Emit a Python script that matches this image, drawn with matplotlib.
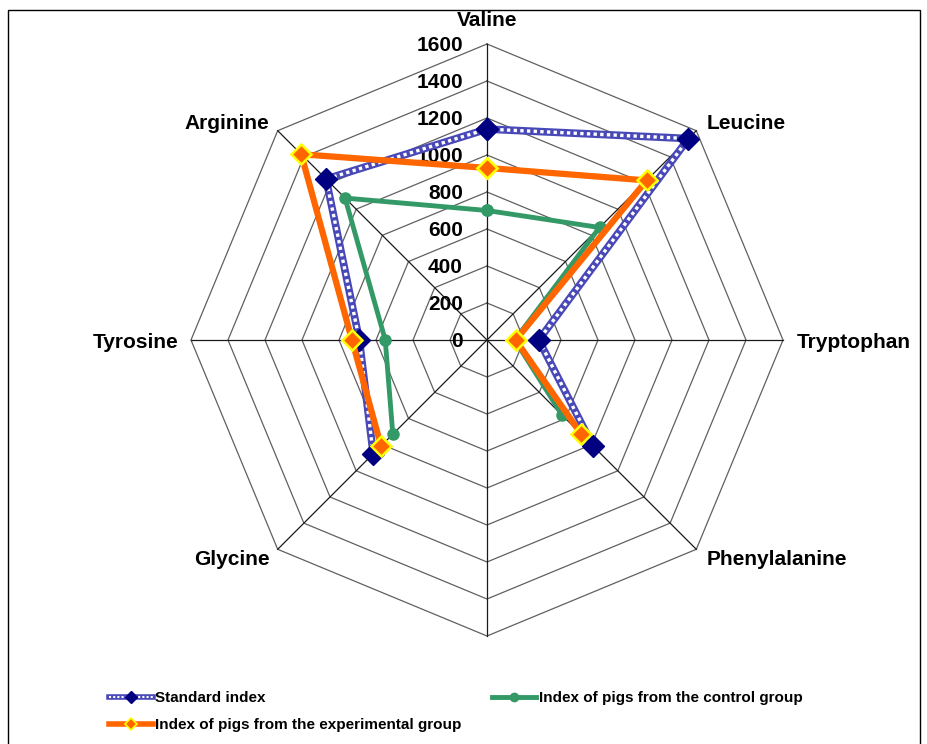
import numpy as np
import matplotlib
matplotlib.use("Agg")
import matplotlib.pyplot as plt
from matplotlib.patches import Rectangle
from matplotlib.lines import Line2D
from matplotlib.legend_handler import HandlerTuple

plt.rcParams['font.family'] = ['Liberation Sans', 'DejaVu Sans']

amino_acids = ["Valine", "Leucine", "Tryptophan", "Phenylalanine",
               "Glycine", "Tyrosine", "Arginine"]
standard = [1140, 1540, 280, 810, 870, 690, 1230]
control = [700, 860, 150, 575, 720, 550, 1085]
experimental = [930, 1220, 155, 720, 810, 730, 1420]
ticks = [0, 200, 400, 600, 800, 1000, 1200, 1400, 1600]

n_spokes = 8
# spokes clockwise from top; the bottom spoke (index 4) is an empty category
spoke_ang = np.pi / 2 - np.arange(n_spokes) * 2 * np.pi / n_spokes
used = [0, 1, 2, 3, 5, 6, 7]


def closed(vals):
    v = np.full(n_spokes, np.nan)
    v[used] = vals
    v = np.append(v, v[0])
    a = np.append(spoke_ang, spoke_ang[0])
    return v * np.cos(a), v * np.sin(a)


fig = plt.figure(figsize=(9.28, 7.44), dpi=100)
ax = fig.add_axes([0, 0, 1, 1])
s = 0.185  # px per unit
ax.set_xlim(-487 / s, (928 - 487) / s)
ax.set_ylim(-(744 - 340) / s, 340 / s)
ax.axis("off")

# polygon grid
ring_ang = np.append(spoke_ang, spoke_ang[0])
for t in ticks[1:]:
    ax.plot(t * np.cos(ring_ang), t * np.sin(ring_ang), color="#606060", lw=0.9, zorder=1)
for a in spoke_ang:
    ax.plot([0, 1600 * np.cos(a)], [0, 1600 * np.sin(a)], color="#1a1a1a", lw=0.9, zorder=1)

for t in ticks:
    ax.text(-130, t - 10, str(t), ha="right", va="center", fontsize=15, fontweight="bold", zorder=2)

# category labels
lab_pos = [(0, 1725), (1185, 1168), (1675, -16), (1185, -1186),
           (-1175, -1186), (-1665, -16), (-1175, 1168)]
lab_ha = ["center", "left", "left", "left", "right", "right", "right"]
for name, (lx, ly), ha in zip(amino_acids, lab_pos, lab_ha):
    ax.text(lx, ly, name, ha=ha, va="center", fontsize=15, fontweight="bold", zorder=2)

# standard index: hatched blue line
sx, sy = closed(standard)
ax.plot(sx, sy, color="#4848b8", lw=5.5, zorder=3, solid_capstyle="butt")
ax.plot(sx, sy, color="white", lw=2.4, ls=(0, (1, 1)), zorder=3)
ax.plot(sx, sy, ls="none", marker="D", ms=11, color="#000080", zorder=4)

cx, cy = closed(control)
ax.plot(cx, cy, color="#339966", lw=3.5, marker="o", ms=8, zorder=5)

ex, ey = closed(experimental)
ax.plot(ex, ey, color="#ff6600", lw=4.5, marker="D", ms=10,
        mfc="#ff6600", mec="#ffff00", mew=1.8, zorder=6)

# legend proxies with small markers
l_std = (Line2D([], [], color="#4848b8", lw=4),
         Line2D([], [], color="white", lw=1.5, ls=(0, (1, 1))),
         Line2D([], [], ls="none", marker="D", ms=6, color="#000080"))
l_exp = Line2D([], [], color="#ff6600", lw=4, marker="D", ms=6,
               mfc="#ff6600", mec="#ffff00", mew=1.2)
l_ctl = Line2D([], [], color="#339966", lw=3.5, marker="o", ms=6)

fig.legend([l_std, l_exp, l_ctl],
           ["Standard index", "Index of pigs from the experimental group",
            "Index of pigs from the control group"],
           handler_map={tuple: HandlerTuple(ndivide=1, pad=0)},
           ncol=2, loc="upper left", bbox_to_anchor=(0.117, 0.071), frameon=False,
           prop={"size": 11, "weight": "bold"}, handlelength=2.9, handletextpad=0.15,
           columnspacing=2.0, labelspacing=0.85, borderaxespad=0, borderpad=0)

fig.patches.append(Rectangle((8 / 928, -0.05), 912 / 928, 1.05 - 10 / 744,
                             transform=fig.transFigure, fill=False, ec="black", lw=1))

fig.savefig("out.png", dpi=100)
